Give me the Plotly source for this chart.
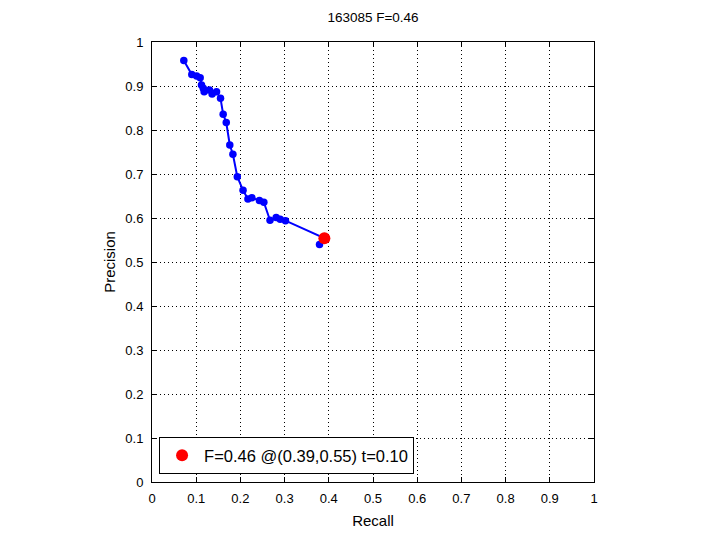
import plotly.graph_objects as go

recall = [0.072, 0.090, 0.101, 0.109, 0.112, 0.116, 0.118, 0.130, 0.136, 0.146, 0.155,
          0.161, 0.168, 0.176, 0.183, 0.193, 0.206, 0.217, 0.226, 0.243, 0.253,
          0.267, 0.281, 0.290, 0.302, 0.392, 0.379]
precision = [0.958, 0.926, 0.923, 0.919, 0.902, 0.895, 0.887, 0.891, 0.882, 0.887, 0.872,
             0.836, 0.817, 0.766, 0.745, 0.694, 0.663, 0.643, 0.646, 0.640, 0.636,
             0.595, 0.601, 0.597, 0.594, 0.553, 0.540]
best_r = [0.39]
best_p = [0.554]
best_label = "F=0.46 @(0.39,0.55) t=0.10"
title_text = "163085 F=0.46"
ticks = [0, 0.1, 0.2, 0.3, 0.4, 0.5, 0.6, 0.7, 0.8, 0.9, 1]
tick_text = ["0", "0.1", "0.2", "0.3", "0.4", "0.5", "0.6", "0.7", "0.8", "0.9", "1"]

FONT = "Liberation Sans"

fig = go.Figure()
fig.add_trace(go.Scatter(x=recall, y=precision, mode="lines+markers",
                         line=dict(color="#0000ff", width=2),
                         marker=dict(color="#0000ff", size=7.5),
                         showlegend=False))
fig.add_trace(go.Scatter(x=best_r, y=best_p, mode="markers",
                         marker=dict(color="#ff0000", size=12),
                         name=best_label, showlegend=True))

axis_common = dict(range=[0, 1], tickvals=ticks, ticktext=tick_text,
                   showgrid=True, gridcolor="black", griddash="1px,3px", gridwidth=1,
                   showline=True, linecolor="black", linewidth=1, mirror="ticks",
                   ticks="inside", ticklen=5, tickcolor="black",
                   zeroline=False,
                   tickfont=dict(family=FONT, size=13, color="black"))

fig.update_layout(
    width=720, height=540,
    margin=dict(l=144, r=134, t=34, b=66),
    paper_bgcolor="white", plot_bgcolor="white",
    title=dict(text=title_text, x=0.5, xref="paper", xanchor="center",
               y=0.983, yref="container", yanchor="middle",
               font=dict(family=FONT, size=13.5, color="black")),
    xaxis=dict(**axis_common, ticklabelstandoff=4,
               title=dict(text="Recall", standoff=10,
                          font=dict(family=FONT, size=15, color="black"))),
    yaxis=dict(**axis_common, ticklabelstandoff=5,
               title=dict(text="Precision", standoff=6,
                          font=dict(family=FONT, size=15, color="black"))),
    legend=dict(x=0.016, y=0.018, xanchor="left", yanchor="bottom",
                bgcolor="white", bordercolor="black", borderwidth=1,
                itemwidth=34,
                font=dict(family=FONT, size=16.5, color="black")),
)

fig.write_html("out.html")
